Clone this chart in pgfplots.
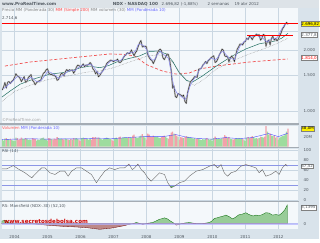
\documentclass[border=0pt]{standalone}
\usepackage{pgfplots}
\pgfplotsset{compat=1.18}
\usepackage{pgfplotstable}
\usepackage{fontspec}
\setmainfont{DejaVu Sans}
\definecolor{outerbg}{HTML}{D9E3EB}
\definecolor{headbg}{HTML}{DDE3E8}
\definecolor{panelbg}{HTML}{F4F8FB}
\definecolor{gridc}{HTML}{CAD7E2}
\definecolor{sepc}{HTML}{A4ACB4}
\definecolor{txt}{HTML}{505860}
\definecolor{mared}{HTML}{F05050}
\definecolor{mablue}{HTML}{8888F0}
\definecolor{mateal}{HTML}{206E60}
\definecolor{upc}{HTML}{9EDC9E}
\definecolor{dnc}{HTML}{F2A2AA}
\definecolor{rsic}{HTML}{8C96E6}
\definecolor{msgreen}{HTML}{98CC98}
\definecolor{msred}{HTML}{BC8888}
\newcommand\tf{\fontsize{4}{4.8}\selectfont}
\newcommand\tfb{\fontsize{4.2}{5}\selectfont\bfseries}

\pgfplotstableread{
t c v u
2003.625 1270 14 1
2003.667 1315 12 1
2003.708 1385 16 1
2003.750 1303 17 0
2003.792 1390 15 1
2003.833 1400 14 1
2003.875 1370 16 0
2003.917 1404 13 1
2003.958 1420 12 1
2004.000 1468 11 1
2004.042 1530 18 1
2004.083 1494 17 0
2004.125 1480 14 0
2004.167 1450 15 0
2004.208 1400 18 0
2004.250 1439 16 1
2004.292 1480 15 1
2004.333 1387 17 0
2004.375 1400 16 1
2004.417 1466 13 1
2004.458 1490 14 1
2004.500 1517 13 1
2004.542 1420 17 0
2004.583 1400 16 0
2004.625 1350 15 0
2004.667 1380 12 1
2004.708 1400 14 1
2004.750 1413 13 1
2004.792 1420 16 1
2004.833 1480 17 1
2004.875 1540 18 1
2004.917 1557 15 1
2004.958 1600 14 1
2005.000 1621 11 1
2005.042 1540 17 0
2005.083 1519 16 0
2005.125 1520 15 1
2005.167 1502 14 0
2005.208 1500 16 0
2005.250 1483 15 0
2005.292 1420 19 0
2005.333 1433 17 1
2005.375 1490 15 1
2005.417 1536 16 1
2005.458 1530 15 0
2005.500 1493 14 0
2005.542 1570 16 1
2005.583 1606 15 1
2005.625 1580 14 0
2005.667 1603 13 1
2005.708 1590 15 0
2005.750 1601 14 1
2005.792 1540 17 0
2005.833 1579 16 1
2005.875 1650 17 1
2005.917 1690 15 1
2005.958 1680 14 0
2006.000 1645 11 0
2006.042 1680 17 1
2006.083 1712 18 1
2006.125 1660 16 0
2006.167 1690 15 1
2006.208 1690 16 1
2006.250 1703 14 1
2006.292 1740 15 1
2006.333 1708 14 0
2006.375 1620 19 0
2006.417 1590 18 0
2006.458 1530 19 0
2006.500 1575 17 1
2006.542 1480 18 0
2006.583 1497 17 1
2006.625 1540 15 1
2006.667 1576 14 1
2006.708 1620 15 1
2006.750 1654 16 1
2006.792 1720 18 1
2006.833 1745 17 1
2006.875 1770 16 1
2006.917 1790 15 1
2006.958 1780 14 0
2007.000 1756 11 0
2007.042 1780 17 1
2007.083 1784 18 1
2007.125 1810 16 1
2007.167 1745 19 0
2007.208 1740 20 0
2007.250 1772 17 1
2007.292 1830 18 1
2007.333 1876 19 1
2007.375 1900 18 1
2007.417 1945 17 1
2007.458 1930 19 0
2007.500 1934 17 1
2007.542 2010 18 1
2007.583 1941 22 0
2007.625 1880 24 0
2007.667 1950 19 1
2007.708 1990 17 1
2007.750 2091 18 1
2007.792 2180 20 1
2007.833 2239 22 1
2007.875 2080 25 0
2007.917 2089 21 1
2007.958 2100 18 1
2008.000 2085 14 0
2008.042 1900 26 0
2008.083 1842 24 0
2008.125 1800 20 0
2008.167 1780 19 0
2008.208 1720 22 0
2008.250 1781 20 1
2008.292 1850 19 1
2008.333 1950 20 1
2008.375 2000 18 1
2008.417 2029 17 1
2008.458 1990 19 0
2008.500 1838 21 0
2008.542 1800 22 0
2008.583 1857 20 1
2008.625 1920 17 1
2008.667 1908 16 0
2008.708 1780 23 0
2008.750 1595 28 0
2008.792 1300 30 0
2008.833 1333 26 1
2008.875 1180 25 0
2008.917 1166 22 0
2008.958 1220 20 1
2009.000 1212 14 0
2009.042 1200 19 0
2009.083 1182 18 0
2009.125 1200 17 1
2009.167 1115 19 0
2009.208 1090 21 0
2009.250 1237 20 1
2009.292 1320 19 1
2009.333 1397 18 1
2009.375 1420 17 1
2009.417 1445 16 1
2009.458 1480 17 1
2009.500 1477 15 0
2009.542 1470 16 0
2009.583 1611 17 1
2009.625 1620 14 1
2009.667 1632 13 1
2009.708 1690 15 1
2009.750 1718 14 1
2009.792 1760 16 1
2009.833 1720 17 0
2009.875 1780 15 1
2009.917 1802 14 1
2009.958 1840 15 1
2010.000 1860 11 1
2010.042 1880 17 1
2010.083 1742 20 0
2010.125 1760 17 1
2010.167 1816 15 1
2010.208 1900 16 1
2010.250 1956 15 1
2010.292 2030 17 1
2010.333 2002 18 0
2010.375 1880 23 0
2010.417 1862 20 0
2010.458 1870 18 1
2010.500 1754 19 0
2010.542 1830 16 1
2010.583 1875 15 1
2010.625 1840 14 0
2010.667 1758 15 0
2010.708 1900 16 1
2010.750 2026 17 1
2010.792 2080 16 1
2010.833 2147 17 1
2010.875 2150 16 1
2010.917 2128 15 0
2010.958 2200 14 1
2011.000 2217 11 1
2011.042 2300 18 1
2011.083 2265 19 0
2011.125 2350 17 1
2011.167 2325 18 0
2011.208 2260 21 0
2011.250 2338 19 1
2011.292 2360 16 1
2011.333 2411 17 1
2011.375 2380 16 0
2011.417 2395 17 1
2011.458 2250 20 0
2011.500 2290 19 1
2011.542 2400 18 1
2011.583 2380 20 0
2011.625 2100 41 0
2011.667 2218 30 1
2011.708 2250 24 1
2011.750 2130 26 0
2011.792 2300 22 1
2011.833 2349 21 1
2011.875 2250 22 0
2011.917 2291 18 1
2011.958 2230 19 0
2012.000 2278 14 1
2012.042 2370 18 1
2012.083 2440 20 1
2012.125 2560 21 1
2012.167 2616 22 1
2012.208 2700 25 1
2012.250 2756 30 1
2012.292 2697 36 0
}\pricetab

\pgfplotsset{panel/.style={
  scale only axis, width=297pt, anchor=south west,
  xmin=2003.62, xmax=2012.60,
  axis background/.style={fill=panelbg},
  axis line style={draw=none},
  xtick={2004,2005,2006,2007,2008,2009,2010,2011,2012},
  xticklabels={},
  xmajorgrids, ymajorgrids,
  major grid style={gridc, line width=0.4pt},
  major tick length=0pt,
  yticklabel pos=right,
  yticklabel style={font=\tf, text=txt, anchor=west, xshift=2pt},
}}

\begin{document}
\begin{tikzpicture}
\fill[outerbg] (0pt,0pt) rectangle (320pt,240pt);
\fill[headbg] (0pt,232pt) rectangle (320pt,240pt);

% ---------------- main panel
\begin{axis}[panel,
  at={(2pt,116pt)}, height=116pt,
  ymode=log, ymin=865, ymax=3250,
  ytick={1000,1500,2000,2500},
  yticklabels={1.000,1.500,2.000,},
]
\addplot[mared, line width=0.7pt, dash pattern=on 3pt off 2pt] coordinates {
(2003.71,1672) (2004.47,1751) (2005.37,1812) (2006.28,1876) (2006.89,1920)
(2007.34,1910) (2007.64,1876) (2008.00,1700) (2008.49,1578) (2008.91,1524)
(2009.30,1545) (2009.60,1616) (2010.12,1672) (2011.12,1751) (2012.29,1814)};
\addplot[gray, line width=0.45pt, densely dotted] coordinates {
(2003.62,1116) (2004.00,1250) (2004.56,1358) (2005.0,1430) (2005.59,1490)
(2006.2,1560) (2006.58,1578) (2007.0,1640) (2007.58,1772) (2008.03,1876)
(2008.35,1900) (2008.61,1876) (2008.85,1700) (2009.0,1560) (2009.25,1400)
(2009.45,1340) (2009.7,1420) (2010.12,1616) (2010.6,1772) (2011.12,1920)
(2011.72,2082) (2012.0,2180) (2012.29,2300)};
\addplot[mateal, line width=0.5pt] coordinates {
(2003.61,1170) (2003.86,1254) (2004.17,1358) (2004.56,1438) (2005.07,1524)
(2005.59,1560) (2006.00,1640) (2006.28,1672) (2006.58,1640) (2006.85,1680)
(2007.10,1752) (2007.45,1820) (2007.79,1876) (2008.09,1975) (2008.35,1985)
(2008.61,1920) (2008.80,1760) (2008.98,1560) (2009.21,1420) (2009.39,1390)
(2009.69,1490) (2010.12,1672) (2010.60,1876) (2011.02,2035) (2011.42,2156)
(2011.93,2232) (2012.10,2300) (2012.29,2430)};
\addplot[gray!50, line width=1.6pt, line join=round] table[x=t, y=c] {\pricetab};
\addplot[black!85, line width=0.4pt] table[x=t, y=c] {\pricetab};
\addplot[mablue, line width=0.5pt] coordinates {
(2003.67,1290) (2003.75,1320) (2003.83,1360) (2003.92,1390) (2004.0,1440)
(2004.08,1480) (2004.17,1475) (2004.25,1450) (2004.33,1430) (2004.42,1440)
(2004.5,1470) (2004.58,1440) (2004.67,1400) (2004.75,1395) (2004.83,1430)
(2004.92,1500) (2005.0,1570) (2005.08,1560) (2005.17,1530) (2005.25,1500)
(2005.33,1450) (2005.42,1490) (2005.5,1510) (2005.58,1560) (2005.67,1590)
(2005.75,1595) (2005.83,1580) (2005.92,1640) (2006.0,1670) (2006.08,1690)
(2006.17,1690) (2006.25,1705) (2006.33,1700) (2006.42,1640) (2006.5,1560)
(2006.58,1530) (2006.67,1570) (2006.75,1640) (2006.83,1720) (2006.92,1770)
(2007.0,1780) (2007.08,1780) (2007.17,1770) (2007.25,1800) (2007.33,1880)
(2007.42,1930) (2007.5,1960) (2007.58,1940) (2007.67,1990) (2007.75,2140)
(2007.83,2150) (2007.92,2110) (2008.0,2020) (2008.08,1880) (2008.17,1790)
(2008.25,1800) (2008.33,1910) (2008.42,1980) (2008.5,1920) (2008.58,1880)
(2008.67,1820) (2008.75,1560) (2008.83,1320) (2008.92,1230) (2009.0,1200)
(2009.08,1170) (2009.17,1140) (2009.25,1220) (2009.33,1340) (2009.42,1430)
(2009.5,1480) (2009.58,1570) (2009.67,1650) (2009.75,1710) (2009.83,1760)
(2009.92,1820) (2010.0,1830) (2010.08,1790) (2010.17,1850) (2010.25,1950)
(2010.33,1980) (2010.42,1900) (2010.5,1830) (2010.58,1820) (2010.67,1800)
(2010.75,1950) (2010.83,2090) (2010.92,2180) (2011.0,2240) (2011.08,2300)
(2011.17,2320) (2011.25,2360) (2011.33,2390) (2011.42,2330) (2011.5,2340)
(2011.58,2250) (2011.67,2200) (2011.75,2270) (2011.83,2290) (2011.92,2280)
(2012.0,2360) (2012.08,2520) (2012.17,2660) (2012.25,2720) (2012.30,2730)};
\addplot[red, line width=0.8pt] coordinates {(2003.62,2714.6) (2012.60,2714.6)};
\addplot[red, line width=0.8pt] coordinates {(2011.05,2377.8) (2012.44,2377.8)};
\end{axis}

% ---------------- volume panel
\begin{axis}[panel,
  at={(2pt,93pt)}, height=21pt,
  ymin=0, ymax=42,
  ytick={20}, yticklabels={20M},
  ymajorgrids=false,
]
\addplot[ybar, bar width=1.3pt, fill=upc, draw=none] table[x=t, y expr=\thisrow{v}*\thisrow{u}] {\pricetab};
\addplot[ybar, bar width=1.3pt, fill=dnc, draw=none] table[x=t, y expr=\thisrow{v}*(1-\thisrow{u})] {\pricetab};
\addplot[blue!70, line width=0.4pt] coordinates {
(2003.62,14) (2004.0,15) (2004.5,15.5) (2005.0,15) (2005.5,15.5) (2006.0,15.5)
(2006.5,17) (2007.0,16) (2007.5,18.5) (2008.0,20) (2008.5,20) (2008.9,24)
(2009.2,19) (2009.6,16) (2010.0,15) (2010.4,18) (2010.8,16) (2011.2,18)
(2011.7,26) (2012.0,20) (2012.29,27)};
\end{axis}

% ---------------- RSI panel
\begin{axis}[panel,
  at={(2pt,38pt)}, height=53pt,
  ymin=-2.6, ymax=103,
  ytick={0,20,40,60,80,100}, yticklabels={0,20,40,60,80,100},
]
\begin{scope}
\clip (axis cs:2003.62,70) rectangle (axis cs:2012.6,103);
\addplot[fill=red!45, draw=none] coordinates {
(2003.613,62.5) (2003.764,62.5) (2003.964,69) (2004.106,62.5) (2004.317,54.6) (2004.520,44.6) (2004.671,54.6) (2004.822,64.5) (2004.922,64.5) (2005.073,54.6) (2005.224,51.2) (2005.375,57.8) (2005.526,57.8) (2005.625,47.8) (2005.728,57.8) (2005.879,64.5) (2006.030,64.5) (2006.181,57.8) (2006.332,51.2) (2006.483,34.7) (2006.583,44.6) (2006.734,57.8) (2006.885,64.5) (2007.036,61) (2007.187,64.5) (2007.338,64.5) (2007.468,72) (2007.571,61) (2007.640,64.5) (2007.740,72) (2007.843,61) (2007.943,54.6) (2008.042,44.6) (2008.145,37.8) (2008.296,47.8) (2008.396,54.6) (2008.547,51.2) (2008.647,34.7) (2008.749,24.7) (2008.849,27.9) (2009.000,34.7) (2009.151,37.8) (2009.302,47.8) (2009.505,57.8) (2009.704,61) (2009.907,67.7) (2010.058,71) (2010.158,64.5) (2010.260,71) (2010.360,54.6) (2010.459,47.8) (2010.562,54.6) (2010.713,57.8) (2010.864,67.7) (2011.015,71) (2011.166,67.7) (2011.317,64.5) (2011.417,54.6) (2011.517,61) (2011.619,47.8) (2011.770,51.2) (2011.921,57.8) (2012.021,51.2) (2012.121,64.5) (2012.224,71.5) (2012.272,67.5)
} -- (axis cs:2012.272,0) -- (axis cs:2003.613,0) -- cycle;
\end{scope}
\begin{scope}
\clip (axis cs:2003.62,-2.6) rectangle (axis cs:2012.6,30);
\addplot[fill=green!50!black!60, draw=none] coordinates {
(2008.547,51.2) (2008.647,34.7) (2008.749,24.7) (2008.849,27.9) (2009.000,34.7)
} -- (axis cs:2009.0,100) -- (axis cs:2008.547,100) -- cycle;
\end{scope}
\addplot[rsic, line width=0.5pt] coordinates {(2003.62,70) (2012.6,70)};
\addplot[rsic, line width=0.5pt] coordinates {(2003.62,30) (2012.6,30)};
\addplot[gray!80!black, line width=0.4pt] coordinates {
(2003.613,62.5) (2003.764,62.5) (2003.964,69) (2004.106,62.5) (2004.317,54.6) (2004.520,44.6) (2004.671,54.6) (2004.822,64.5) (2004.922,64.5) (2005.073,54.6) (2005.224,51.2) (2005.375,57.8) (2005.526,57.8) (2005.625,47.8) (2005.728,57.8) (2005.879,64.5) (2006.030,64.5) (2006.181,57.8) (2006.332,51.2) (2006.483,34.7) (2006.583,44.6) (2006.734,57.8) (2006.885,64.5) (2007.036,61) (2007.187,64.5) (2007.338,64.5) (2007.468,72) (2007.571,61) (2007.640,64.5) (2007.740,72) (2007.843,61) (2007.943,54.6) (2008.042,44.6) (2008.145,37.8) (2008.296,47.8) (2008.396,54.6) (2008.547,51.2) (2008.647,34.7) (2008.749,24.7) (2008.849,27.9) (2009.000,34.7) (2009.151,37.8) (2009.302,47.8) (2009.505,57.8) (2009.704,61) (2009.907,67.7) (2010.058,71) (2010.158,64.5) (2010.260,71) (2010.360,54.6) (2010.459,47.8) (2010.562,54.6) (2010.713,57.8) (2010.864,67.7) (2011.015,71) (2011.166,67.7) (2011.317,64.5) (2011.417,54.6) (2011.517,61) (2011.619,47.8) (2011.770,51.2) (2011.921,57.8) (2012.021,51.2) (2012.121,64.5) (2012.224,71.5) (2012.272,67.5)};
\end{axis}

% ---------------- Mansfield panel
\begin{axis}[panel,
  at={(2pt,10pt)}, height=27pt,
  ymin=-1.56, ymax=5.82,
  ytick={0}, yticklabels={0},
  xticklabels={2004,2005,2006,2007,2008,2009,2010,2011,2012},
  xticklabel style={font=\tf, text=txt, yshift=-3pt},
]
\begin{scope}
\clip (axis cs:2003.62,0) rectangle (axis cs:2012.6,5.82);
\addplot[fill=msgreen, draw=green!40!black, line width=0.3pt] coordinates {
(2003.613,0.7) (2003.713,0.9) (2003.813,0.3) (2003.964,0.0) (2004.166,-0.1) (2004.32,0.1) (2004.62,-0.1)
(2004.973,-0.4) (2005.254,-0.6) (2005.577,-0.8) (2005.858,-0.9) (2006.181,-1.1) (2006.372,-1.3)
(2006.583,-1.55) (2006.734,-1.4) (2006.885,-1.3) (2007.067,-1.0) (2007.278,-0.65) (2007.429,-0.3)
(2007.580,0.0) (2007.692,0.3) (2007.792,0.1) (2007.891,-0.2) (2008.033,0.1) (2008.184,0.3)
(2008.305,0.8) (2008.396,1.2) (2008.486,1.4) (2008.547,1.6) (2008.637,1.3) (2008.698,0.9)
(2008.819,0.2) (2008.900,-0.4) (2009.000,-0.2) (2009.051,0.0) (2009.181,0.2) (2009.302,0.3)
(2009.453,0.1) (2009.604,0.0) (2009.755,0.1) (2009.907,0.3) (2009.997,0.8) (2010.058,1.45)
(2010.148,1.6) (2010.209,1.8) (2010.299,2.0) (2010.411,2.35) (2010.511,1.9) (2010.610,1.3)
(2010.692,1.7) (2010.813,2.5) (2010.903,2.6) (2011.015,3.0) (2011.085,2.6) (2011.166,2.3)
(2011.236,2.1) (2011.317,2.35) (2011.417,2.2) (2011.517,2.5) (2011.619,3.0) (2011.719,2.9)
(2011.819,2.35) (2011.930,2.5) (2012.021,2.3) (2012.121,3.0) (2012.202,3.9) (2012.272,5.14)
} -- (axis cs:2012.272,0) -- (axis cs:2003.613,0) -- cycle;
\end{scope}
\begin{scope}
\clip (axis cs:2003.62,-1.56) rectangle (axis cs:2012.6,0);
\addplot[fill=msred, draw=red!40!black, line width=0.3pt] coordinates {
(2003.613,0.7) (2003.713,0.9) (2003.813,0.3) (2003.964,0.0) (2004.166,-0.1) (2004.32,0.1) (2004.62,-0.1)
(2004.973,-0.4) (2005.254,-0.6) (2005.577,-0.8) (2005.858,-0.9) (2006.181,-1.1) (2006.372,-1.3)
(2006.583,-1.55) (2006.734,-1.4) (2006.885,-1.3) (2007.067,-1.0) (2007.278,-0.65) (2007.429,-0.3)
(2007.580,0.0) (2007.692,0.3) (2007.792,0.1) (2007.891,-0.2) (2008.033,0.1) (2008.184,0.3)
(2008.305,0.8) (2008.396,1.2) (2008.486,1.4) (2008.547,1.6) (2008.637,1.3) (2008.698,0.9)
(2008.819,0.2) (2008.900,-0.4) (2009.000,-0.2) (2009.051,0.0) (2009.181,0.2) (2009.302,0.3)
(2009.453,0.1) (2009.604,0.0) (2009.755,0.1) (2009.907,0.3) (2009.997,0.8) (2010.058,1.45)
(2010.148,1.6) (2010.209,1.8) (2010.299,2.0) (2010.411,2.35) (2010.511,1.9) (2010.610,1.3)
(2010.692,1.7) (2010.813,2.5) (2010.903,2.6) (2011.015,3.0) (2011.085,2.6) (2011.166,2.3)
(2011.236,2.1) (2011.317,2.35) (2011.417,2.2) (2011.517,2.5) (2011.619,3.0) (2011.719,2.9)
(2011.819,2.35) (2011.930,2.5) (2012.021,2.3) (2012.121,3.0) (2012.202,3.9) (2012.272,5.14)
} -- (axis cs:2012.272,0) -- (axis cs:2003.613,0) -- cycle;
\end{scope}
\addplot[blue!30, opacity=0.7, line width=2pt] coordinates {(2003.62,0) (2012.6,0)};
\end{axis}

% separators
\fill[sepc] (0pt,115pt) rectangle (300pt,117pt);
\fill[sepc] (0pt,91.5pt) rectangle (300pt,93pt);
\fill[sepc] (0pt,37pt) rectangle (300pt,38.5pt);

% header texts
\node[anchor=west, font=\tfb, text=txt, inner sep=0pt] at (2pt,236pt) {www.ProRealTime.com};
\node[anchor=west, font=\tfb, text=txt, inner sep=0pt] at (113pt,236pt) {NDX - NASDAQ 100};
\node[anchor=west, font=\tf, text=txt, inner sep=0pt] at (162pt,236pt) {2.696,82 (-1,88\%)};
\node[anchor=west, font=\tf, text=txt, inner sep=0pt] at (208pt,236pt) {2 semanas};
\node[anchor=west, font=\tf, text=txt, inner sep=0pt] at (235pt,236pt) {19 abr 2012};
% legend row
\node[anchor=west, font=\tf, inner sep=0pt] at (2pt,229.5pt) {\textcolor{gray}{Precio MM (Ponderada 30)} \textcolor{red!75}{MM (Simple 200)} \textcolor{gray}{MM volumen (30)} \textcolor{blue!60}{MM (Ponderada 10)}};
\node[anchor=west, font=\tf, text=txt, inner sep=0pt] at (2pt,221.5pt) {2.714,6};
\node[anchor=west, font=\tf, text=gray!70, inner sep=0pt] at (2pt,120pt) {©ProRealTime.com};
\node[anchor=west, font=\tf, inner sep=0pt] at (2pt,111pt) {\textcolor{red!65}{Volumen} \textcolor{blue!60}{MM (Ponderada 10)}};
\node[anchor=west, font=\tf, text=txt, inner sep=0pt] at (2pt,88.5pt) {RSI (14)};
\node[anchor=west, font=\tf, text=txt, inner sep=0pt] at (2pt,33pt) {RS: Mansfield (NDX-.30) (52,10)};
\node[anchor=west, font=\fontsize{5.6}{6}\selectfont\bfseries, text=red!80!black, inner sep=0pt] at (4pt,17.5pt) {www.secretosdebolsa.com};

% right value boxes
\node[anchor=west, font=\tf, fill=yellow, draw=gray, inner sep=0.6pt] at (301.5pt,216pt) {2.696,82};
\node[anchor=west, font=\tf, fill=white, draw=gray, text=txt, inner sep=0.6pt] at (301.5pt,205pt) {2.377,8};
\node[anchor=west, font=\tf, fill=white, draw=gray, text=red, inner sep=0.6pt] at (301.5pt,182pt) {1.814,0};
\node[anchor=west, font=\tf, fill=yellow, draw=gray, inner sep=0.6pt] at (301.5pt,111pt) {38,0M};
\node[anchor=west, font=\tf, fill=white, draw=gray, text=txt, inner sep=0.6pt] at (301.5pt,73.5pt) {67,52};
\node[anchor=west, font=\tf, fill=white, draw=gray, text=txt, inner sep=0.6pt] at (301.5pt,32pt) {5,1395};
\end{tikzpicture}
\end{document}
